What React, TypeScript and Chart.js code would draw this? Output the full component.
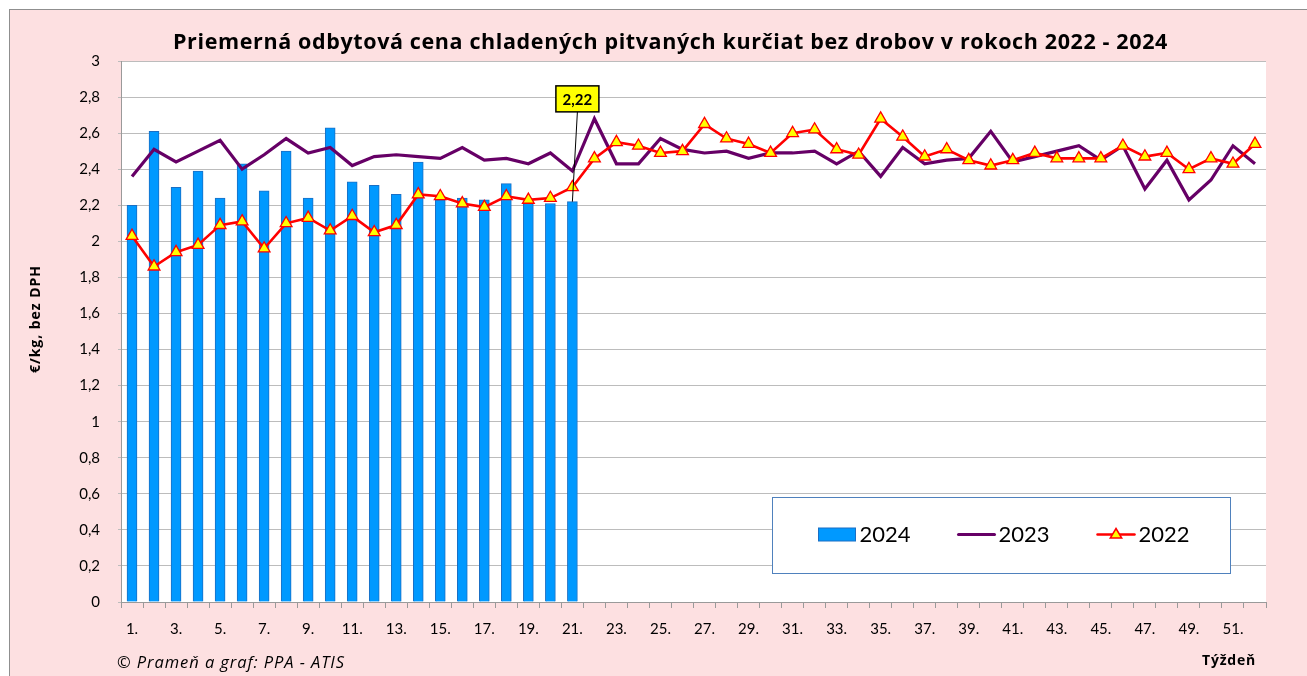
import React, { useEffect, useRef } from "react";
import { Chart, registerables } from "chart.js";

Chart.register(...registerables);

const weekLabels = [
  "1.", "2.", "3.", "4.", "5.", "6.", "7.", "8.", "9.", "10.",
  "11.", "12.", "13.", "14.", "15.", "16.", "17.", "18.", "19.", "20.",
  "21.", "22.", "23.", "24.", "25.", "26.", "27.", "28.", "29.", "30.",
  "31.", "32.", "33.", "34.", "35.", "36.", "37.", "38.", "39.", "40.",
  "41.", "42.", "43.", "44.", "45.", "46.", "47.", "48.", "49.", "50.",
  "51.", "52.",
];

const prices2024 = [
  2.20, 2.61, 2.30, 2.39, 2.24, 2.43, 2.28, 2.50, 2.24, 2.63,
  2.33, 2.31, 2.26, 2.44, 2.23, 2.24, 2.23, 2.32, 2.21, 2.21,
  2.22,
];

const prices2023 = [
  2.36, 2.51, 2.44, 2.50, 2.56, 2.40, 2.48, 2.57, 2.49, 2.52,
  2.42, 2.47, 2.48, 2.47, 2.46, 2.52, 2.45, 2.46, 2.43, 2.49,
  2.39, 2.68, 2.43, 2.43, 2.57, 2.51, 2.49, 2.50, 2.46, 2.49,
  2.49, 2.50, 2.43, 2.50, 2.36, 2.52, 2.43, 2.45, 2.46, 2.61,
  2.44, 2.47, 2.50, 2.53, 2.45, 2.53, 2.29, 2.45, 2.23, 2.34,
  2.53, 2.43,
];

const prices2022 = [
  2.03, 1.86, 1.94, 1.98, 2.09, 2.11, 1.96, 2.10, 2.13, 2.06,
  2.14, 2.05, 2.09, 2.26, 2.25, 2.21, 2.19, 2.25, 2.23, 2.24,
  2.30, 2.46, 2.55, 2.53, 2.49, 2.50, 2.65, 2.57, 2.54, 2.49,
  2.60, 2.62, 2.51, 2.48, 2.68, 2.58, 2.47, 2.51, 2.45, 2.42,
  2.45, 2.49, 2.46, 2.46, 2.46, 2.53, 2.47, 2.49, 2.40, 2.46,
  2.43, 2.54,
];

const seriesNames = ["2024", "2023", "2022"];
const titleText = "Priemerná odbytová cena chladených pitvaných kurčiat bez drobov v rokoch 2022 - 2024";
const yAxisTitle = "€/kg, bez DPH";
const xAxisTitle = "Týždeň";
const sourceText = "© Prameň a graf: PPA - ATIS";
const calloutIndex = 20;

const FONT = "Lato, 'Open Sans', sans-serif";
const WIDE = "'Open Sans', Lato, sans-serif";

const fmt = (v: number) => String(Math.round(v * 10) / 10).replace(".", ",");

function fitText(ctx: any, text: string, x: number, y: number, targetW: number) {
  ctx.letterSpacing = "0px";
  const w = ctx.measureText(text).width;
  const ls = (targetW - w) / text.length;
  ctx.letterSpacing = `${ls}px`;
  ctx.fillText(text, x, y);
  ctx.letterSpacing = "0px";
}

const decorPlugin = {
  id: "decor",
  beforeDraw(chart: any) {
    const { ctx, width, height, chartArea: a } = chart;
    ctx.save();
    ctx.fillStyle = "#fde0e1";
    ctx.fillRect(0, 0, width, height);
    ctx.strokeStyle = "#8f8f8f";
    ctx.lineWidth = 1;
    ctx.strokeRect(0.5, 0.5, width + 20, height + 20);
    ctx.fillStyle = "#ffffff";
    ctx.fillRect(a.left, a.top, a.right - a.left, a.bottom - a.top);

    // chart title
    ctx.fillStyle = "#000";
    ctx.font = `bold 21.5px ${WIDE}`;
    ctx.textAlign = "left";
    ctx.textBaseline = "middle";
    fitText(ctx, titleText, 164, 34, 995);

    // y axis title
    ctx.save();
    ctx.translate(27.5, 310);
    ctx.rotate(-Math.PI / 2);
    ctx.font = `bold 14px ${WIDE}`;
    ctx.textAlign = "left";
    fitText(ctx, yAxisTitle, -54, 0, 108);
    ctx.restore();
    ctx.restore();
  },
  afterDatasetsDraw(chart: any) {
    const { ctx } = chart;
    const meta = chart.getDatasetMeta(0);
    const bar = meta.data[calloutIndex];
    if (!bar) return;
    const val = chart.data.datasets[0].data[calloutIndex] as number;
    const yScale = chart.scales.y;
    const boxW = 43;
    const boxH = 26;
    const cx = bar.x + 5;
    const cy = yScale.getPixelForValue(2.79);
    ctx.save();
    ctx.strokeStyle = "#000";
    ctx.lineWidth = 1;
    ctx.beginPath();
    ctx.moveTo(cx, cy + boxH / 2);
    ctx.lineTo(bar.x, bar.y);
    ctx.stroke();
    ctx.fillStyle = "#ffff00";
    ctx.fillRect(cx - boxW / 2, cy - boxH / 2, boxW, boxH);
    ctx.lineWidth = 1.5;
    ctx.strokeRect(cx - boxW / 2, cy - boxH / 2, boxW, boxH);
    ctx.fillStyle = "#000";
    ctx.font = `bold 15px ${FONT}`;
    ctx.textAlign = "center";
    ctx.textBaseline = "middle";
    ctx.fillText(val.toFixed(2).replace(".", ","), cx, cy + 1);
    ctx.restore();
  },
  afterDraw(chart: any) {
    const { ctx } = chart;
    ctx.save();
    // legend box
    const lx = 763.5, ly = 488.5, lw = 458, lh = 76;
    ctx.fillStyle = "#ffffff";
    ctx.fillRect(lx, ly, lw, lh);
    ctx.strokeStyle = "#4f81bd";
    ctx.lineWidth = 1;
    ctx.strokeRect(lx, ly, lw, lh);
    const ds = chart.data.datasets;
    const my = ly + 37;
    ctx.font = `22px ${FONT}`;
    ctx.textBaseline = "middle";
    ctx.textAlign = "left";
    // bar swatch
    ctx.fillStyle = ds[0].backgroundColor;
    ctx.fillRect(lx + 46, my - 6.5, 37, 13);
    ctx.strokeStyle = ds[0].borderColor;
    ctx.strokeRect(lx + 46, my - 6.5, 37, 13);
    ctx.fillStyle = "#000";
    ctx.fillText(ds[0].label, lx + 87, my);
    // 2023 line swatch
    ctx.strokeStyle = ds[1].borderColor;
    ctx.lineWidth = 3;
    ctx.lineCap = "round";
    ctx.beginPath();
    ctx.moveTo(lx + 186, my);
    ctx.lineTo(lx + 222, my);
    ctx.stroke();
    ctx.fillText(ds[1].label, lx + 226, my);
    // 2022 line swatch
    ctx.strokeStyle = ds[2].borderColor;
    ctx.lineWidth = 2.5;
    ctx.beginPath();
    ctx.moveTo(lx + 325, my);
    ctx.lineTo(lx + 362, my);
    ctx.stroke();
    const tx = lx + 343.5;
    const r = 6;
    ctx.beginPath();
    ctx.moveTo(tx, my - r);
    ctx.lineTo(tx + r * 0.95, my + r * 0.6);
    ctx.lineTo(tx - r * 0.95, my + r * 0.6);
    ctx.closePath();
    ctx.fillStyle = "#ffff00";
    ctx.fill();
    ctx.lineWidth = 1.5;
    ctx.strokeStyle = "#ff0000";
    ctx.stroke();
    ctx.fillStyle = "#000";
    ctx.fillText(ds[2].label, lx + 366, my);

    // footer texts
    ctx.font = `italic 16.5px ${WIDE}`;
    ctx.textAlign = "left";
    ctx.textBaseline = "middle";
    fitText(ctx, sourceText, 108, 654, 228);
    ctx.font = `bold 14px ${WIDE}`;
    fitText(ctx, xAxisTitle, 1193, 652, 54);
    ctx.restore();
  },
};

export default function App() {
  const canvasRef = useRef<HTMLCanvasElement | null>(null);

  useEffect(() => {
    const canvas = canvasRef.current;
    if (!canvas) return;
    const chart = new Chart(canvas, {
      type: "bar",
      data: {
        labels: weekLabels,
        datasets: [
          {
            type: "bar",
            label: seriesNames[0],
            data: prices2024,
            backgroundColor: "#0099ff",
            borderColor: "#1a6fc4",
            borderWidth: 1,
            barThickness: 10,
            order: 3,
          },
          {
            type: "line",
            label: seriesNames[1],
            data: prices2023,
            borderColor: "#660066",
            borderWidth: 3.2,
            pointRadius: 0,
            tension: 0,
            order: 2,
          },
          {
            type: "line",
            label: seriesNames[2],
            data: prices2022,
            borderColor: "#ff0000",
            borderWidth: 2.6,
            pointStyle: "triangle",
            pointRadius: 6.8,
            pointBackgroundColor: "#ffff00",
            pointBorderColor: "#ff0000",
            pointBorderWidth: 1.3,
            tension: 0,
            order: 1,
          },
        ] as any,
      },
      options: {
        animation: false,
        responsive: false,
        maintainAspectRatio: false,
        layout: { padding: { left: 0, right: 41, top: 52, bottom: 0 } },
        plugins: {
          legend: { display: false },
          tooltip: { enabled: false },
          title: { display: false },
        },
        scales: {
          x: {
            offset: true,
            grid: {
              offset: true,
              drawOnChartArea: false,
              drawTicks: true,
              tickLength: 6,
              color: "#9a9a9a",
            },
            border: { display: true, color: "#9a9a9a" },
            ticks: {
              autoSkip: false,
              maxRotation: 0,
              minRotation: 0,
              padding: 12,
              color: "#000",
              font: { family: FONT, size: 15 },
              callback: (_v: any, i: number) => (i % 2 === 0 ? weekLabels[i] : ""),
            },
            afterFit: (s: any) => {
              s.height = 74;
            },
          },
          y: {
            min: 0,
            max: 3,
            ticks: {
              stepSize: 0.2,
              padding: 18,
              color: "#000",
              font: { family: FONT, size: 15 },
              callback: (v: any) => fmt(Number(v)),
            },
            grid: {
              color: "#bcbcbc",
              lineWidth: 1,
              drawTicks: true,
              tickLength: 3,
            },
            border: { display: true, color: "#9a9a9a" },
            title: { display: false },
            afterFit: (s: any) => {
              s.width = 112;
            },
          },
        },
      },
      plugins: [decorPlugin],
    });
    return () => chart.destroy();
  }, []);

  return (
    <div style={{ position: "absolute", left: 9, top: 9, width: 1298, height: 667 }}>
      <canvas ref={canvasRef} width={1298} height={667} style={{ display: "block", width: 1298, height: 667 }} />
    </div>
  );
}
